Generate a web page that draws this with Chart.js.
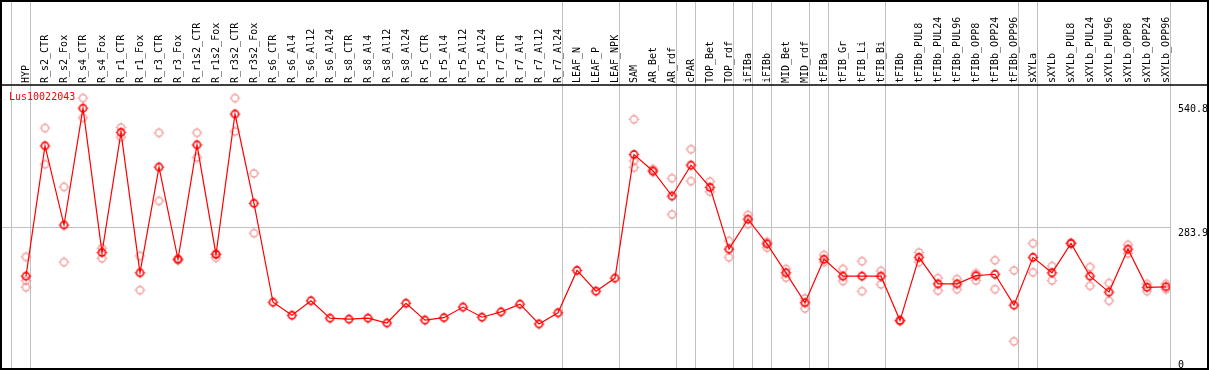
<!DOCTYPE html>
<html>
<head>
<meta charset="utf-8">
<script src="https://cdn.jsdelivr.net/npm/chart.js@4.4.1/dist/chart.umd.min.js"></script>
<style>
  html, body { margin: 0; padding: 0; background: #fff; }
  #wrap { width: 1209px; height: 370px; }
</style>
</head>
<body>
<div id="wrap"><canvas id="expr" width="1209" height="370"></canvas></div>
<script>
// sample names (x categories)
const samples = [
  "HYP", "R_s2_CTR", "R_s2_Fox", "R_s4_CTR", "R_s4_Fox", "R_r1_CTR", "R_r1_Fox", "R_r3_CTR", "R_r3_Fox",
  "R_r1s2_CTR", "R_r1s2_Fox", "R_r3s2_CTR", "R_r3s2_Fox", "R_s6_CTR", "R_s6_Al4", "R_s6_Al12", "R_s6_Al24",
  "R_s8_CTR", "R_s8_Al4", "R_s8_Al12", "R_s8_Al24", "R_r5_CTR", "R_r5_Al4", "R_r5_Al12", "R_r5_Al24",
  "R_r7_CTR", "R_r7_Al4", "R_r7_Al12", "R_r7_Al24", "LEAF_N", "LEAF_P", "LEAF_NPK", "SAM", "AR_Bet", "AR_rdf",
  "cPAR", "TOP_Bet", "TOP_rdf", "iFIBa", "iFIBb", "MID_Bet", "MID_rdf", "tFIBa", "tFIB_Gr", "tFIB_Li", "tFIB_Bi",
  "tFIBb", "tFIBb_PUL8", "tFIBb_PUL24", "tFIBb_PUL96", "tFIBb_OPP8", "tFIBb_OPP24", "tFIBb_OPP96",
  "sXYLa", "sXYLb", "sXYLb_PUL8", "sXYLb_PUL24", "sXYLb_PUL96", "sXYLb_OPP8", "sXYLb_OPP24", "sXYLb_OPP96"
];

// mean expression per sample
const meanVals = [
  184, 454, 290, 532, 233, 482, 191, 410, 219, 456, 229, 520, 335,
  130, 103, 133, 97, 95, 97, 87, 128, 93, 98, 120, 99, 110, 126, 85, 108,
  196, 153, 180, 436, 402, 350, 414, 368, 240, 302, 251, 191, 129,
  219, 184, 184, 184, 92, 223, 168, 168, 185, 188, 124,
  223, 191, 252, 184, 151, 240, 161, 162
];

// replicate values (null = no replicate drawn)
const rep1 = [
  224, 491, 369, 553, 242, 492, 226, 481, 220, 481, 231, 553, 397,
  null, null, null, null, null, null, null, null, null, null, null, null, null, null, null, null,
  null, null, null, 509, 406, 387, 447, 380, 257, 311, 255, 199, 138,
  228, 199, 215, 195, 93, 233, 180, 178, 190, 217, 196,
  252, 205, 253, 203, 170, 249, 168, 168
];
const rep2 = [
  175, 416, 213, 512, 221, 472, 155, 340, 217, 430, 222, 484, 273,
  null, null, null, null, null, null, null, null, null, null, null, null, null, null, null, null,
  null, null, null, 423, 400, 312, 381, 359, 223, 292, 243, 181, 117,
  213, 174, 153, 167, 91, 213, 154, 157, 175, 157, 49,
  192, 175, 251, 164, 133, 231, 153, 157
];
const rep3 = [161, null, null, null, null, null, null, null, null, null, null, null, null,
  null, null, null, null, null, null, null, null, null, null, null, null, null, null, null, null,
  null, null, null, 409];

// last sample index of each group (separator drawn just after it)
const groupEnds = [-1, 0, 28, 31, 34, 35, 37, 38, 39, 41, 42, 45, 52, 53, 60];
const yTicks = [0, 283.9, 540.8];
const geneName = "Lus10022043";

const monoFont = { family: "'DejaVu Sans Mono', monospace", size: 10, lineHeight: 1 };

function ringMarker(color, lw) {
  const c = document.createElement("canvas");
  c.width = 13; c.height = 13;
  const g = c.getContext("2d");
  g.strokeStyle = color;
  g.lineWidth = lw;
  g.beginPath();
  g.arc(6.5, 6.5, 3.6, 0, Math.PI * 2);
  g.stroke();
  g.lineWidth = 1;
  g.beginPath();
  g.moveTo(6.5, 1.3); g.lineTo(6.5, 2.4);
  g.moveTo(6.5, 10.6); g.lineTo(6.5, 11.7);
  g.moveTo(1.3, 6.5); g.lineTo(2.4, 6.5);
  g.moveTo(10.6, 6.5); g.lineTo(11.7, 6.5);
  g.stroke();
  return c;
}

const toPoints = (arr) => arr.map((v, i) => (v == null ? null : { x: i, y: v })).filter(p => p);

const frame = {
  id: "frame",
  afterDraw(chart) {
    const ctx = chart.ctx;
    ctx.save();
    ctx.strokeStyle = "#000";
    ctx.lineWidth = 2;
    ctx.strokeRect(1, 1, 1207, 368);
    ctx.lineWidth = 1.5;
    ctx.beginPath();
    ctx.moveTo(0, chart.chartArea.top);
    ctx.lineTo(1209, chart.chartArea.top);
    ctx.stroke();
    ctx.restore();
  }
};

// gene name written at the top-left corner of the plot
const geneLabel = {
  id: "geneLabel",
  afterDatasetsDraw(chart) {
    const ctx = chart.ctx;
    ctx.save();
    ctx.fillStyle = "#ff0000";
    ctx.font = "10px 'DejaVu Sans Mono', monospace";
    ctx.textBaseline = "middle";
    ctx.fillText(chart.data.datasets[0].label, chart.chartArea.left + 8, chart.chartArea.top + 12);
    ctx.restore();
  }
};

const X_MIN = -25 / 19;
const X_MAX = X_MIN + 1169 / 19;

new Chart(document.getElementById("expr"), {
  type: "line",
  data: {
    datasets: [
      {
        label: geneName,
        data: toPoints(meanVals),
        borderColor: "#ff0000",
        borderWidth: 1.2,
        pointStyle: ringMarker("#ff0000", 1.6),
        pointRadius: 5,
        tension: 0
      },
      {
        label: "rep1",
        data: toPoints(rep1),
        showLine: false,
        pointStyle: ringMarker("#f08c8c", 1.2),
        pointRadius: 5
      },
      {
        label: "rep2",
        data: toPoints(rep2),
        showLine: false,
        pointStyle: ringMarker("#f08c8c", 1.2),
        pointRadius: 5
      },
      {
        label: "rep3",
        data: toPoints(rep3),
        showLine: false,
        pointStyle: ringMarker("#f08c8c", 1.2),
        pointRadius: 5
      }
    ]
  },
  options: {
    responsive: false,
    animation: false,
    devicePixelRatio: 1,
    events: [],
    layout: { autoPadding: false, padding: { left: 1, top: 0, right: 0, bottom: 1 } },
    scales: {
      x: {
        type: "linear",
        position: "top",
        weight: 1,
        min: X_MIN,
        max: X_MAX,
        grid: { display: false, drawTicks: false },
        border: { display: false },
        afterBuildTicks: (s) => { s.ticks = samples.map((n, i) => ({ value: i })); },
        afterFit: (s) => { s.height = 85; s.paddingLeft = 0; s.paddingRight = 0; },
        ticks: {
          autoSkip: false,
          minRotation: 90,
          maxRotation: 90,
          padding: 2,
          labelOffset: 10,
          color: "#000",
          font: monoFont,
          callback: (v) => samples[v]
        }
      },
      xg: {
        type: "linear",
        position: "top",
        weight: 0,
        min: X_MIN,
        max: X_MAX,
        afterBuildTicks: (s) => { s.ticks = groupEnds.map(i => ({ value: i + 0.24 })); },
        afterFit: (s) => { s.height = 0; s.paddingLeft = 0; s.paddingRight = 0; },
        ticks: { display: false },
        border: { display: false },
        grid: { color: "#c0c0c0", lineWidth: 1, drawTicks: true, tickLength: 85 }
      },
      y: {
        position: "right",
        min: -8.3,
        max: 580.1,
        afterBuildTicks: (s) => { s.ticks = yTicks.map(v => ({ value: v })); },
        afterFit: (s) => { s.width = 39; s.paddingTop = 0; s.paddingBottom = 0; },
        border: { display: false },
        grid: {
          drawTicks: false,
          color: (c) => (c.tick && c.tick.value === 283.9 ? "#c0c0c0" : "rgba(0,0,0,0)")
        },
        ticks: {
          padding: 8,
          color: "#000",
          font: monoFont,
          callback: (v) => (v === 0 ? "0" : ["", String(v)])
        }
      }
    },
    plugins: {
      tooltip: { enabled: false },
      legend: { display: false }
    }
  },
  plugins: [frame, geneLabel]
});
</script>
</body>
</html>
